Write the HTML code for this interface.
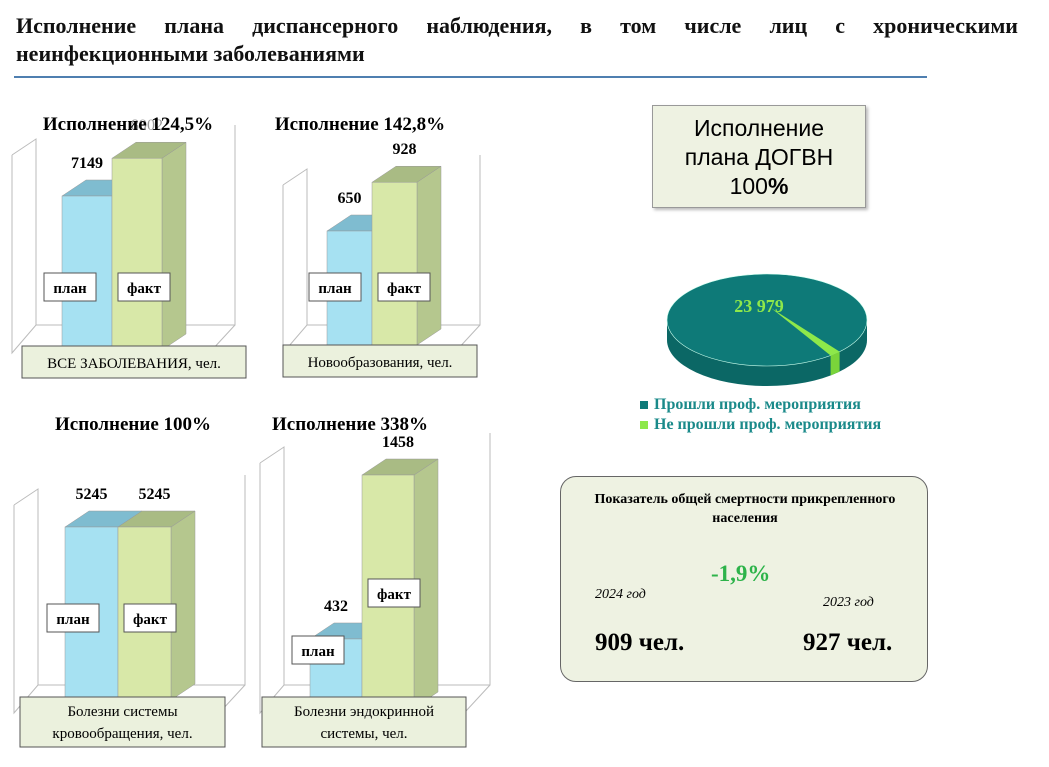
<!DOCTYPE html>
<html><head><meta charset="utf-8">
<style>
body{margin:0;width:1049px;height:767px;background:#fff;overflow:hidden;font-family:"Liberation Serif",serif;}
#root{position:relative;width:1049px;height:767px;}
.abs{position:absolute;}
.title{left:16px;top:12px;width:1002px;font-weight:bold;font-size:22px;line-height:28px;color:#111;}
.j{text-align:justify;text-align-last:justify;}
</style></head><body>
<div id="root">
<div class="abs title"><div class="j">Исполнение плана диспансерного наблюдения, в том числе лиц с хроническими</div><div>неинфекционными заболеваниями</div></div>
<div class="abs" style="left:14px;top:76px;width:913px;height:2px;background:#4f7fb0"></div>

<svg class="abs" style="left:0;top:0" width="1049" height="767" id="svg" font-family="Liberation Serif, serif"></svg>

<div class="abs" style="left:652px;top:105px;width:214px;height:103px;background:#eef2e2;border:1px solid #999;box-shadow:2px 2px 3px #bbb;text-align:center;font-family:'Liberation Sans',sans-serif;font-size:23px;line-height:29px;padding-top:8px;box-sizing:border-box">Исполнение<br>плана ДОГВН<br>100<b>%</b></div>

<div class="abs" style="left:640px;top:395px;font-weight:bold;font-size:16px;line-height:20px;color:#1a8a8a">
<div><span style="display:inline-block;width:8px;height:8px;background:#0e7a78;margin-right:6px"></span>Прошли проф. мероприятия</div>
<div><span style="display:inline-block;width:8px;height:8px;background:#8ee84a;margin-right:6px"></span>Не прошли проф. мероприятия</div>
</div>

<div class="abs" style="left:560px;top:476px;width:368px;height:206px;background:#eef2e2;border:1px solid #666;border-radius:16px;box-sizing:border-box">
<div class="abs" style="left:0;top:13px;width:368px;text-align:center;font-weight:bold;font-size:14px;line-height:19px">Показатель общей смертности прикрепленного<br>населения</div>
<div class="abs" style="left:150px;top:84px;font-weight:bold;font-size:23px;color:#2db34a">-1,9%</div>
<div class="abs" style="left:34px;top:110px;font-style:italic;font-size:14px">2024 год</div>
<div class="abs" style="left:262px;top:118px;font-style:italic;font-size:14px">2023 год</div>
<div class="abs" style="left:34px;top:152px;font-weight:bold;font-size:25px">909 чел.</div>
<div class="abs" style="left:242px;top:152px;font-weight:bold;font-size:25px">927 чел.</div>
</div>
</div>
<script>
const categories=["ВСЕ ЗАБОЛЕВАНИЯ, чел.","Новообразования, чел.","Болезни системы|кровообращения, чел.","Болезни эндокринной|системы, чел."];
const planValues=[7149,650,5245,432];
const factValues=[8902,928,5245,1458];
const titles=["Исполнение 124,5%","Исполнение 142,8%","Исполнение 100%","Исполнение 338%"];
const pieLabels=["Прошли проф. мероприятия","Не прошли проф. мероприятия"];
const pieValues=[23979,480];

const NS="http://www.w3.org/2000/svg";
const svg=document.getElementById('svg');
function mk(tag,attrs,parent){const e=document.createElementNS(NS,tag);for(const k in attrs)e.setAttribute(k,attrs[k]);(parent||svg).appendChild(e);return e;}
const layout=[
 {x0:62,bw:50,floor:350,pxPerUnit:154/7149,box:[12,125,235,345],tx:128,ty:130,cat:[22,346,224,32],lblY:289},
 {x0:327,bw:45,floor:345,pxPerUnit:114/650,box:[283,155,480,345],tx:360,ty:130,cat:[283,345,194,32],lblY:289},
 {x0:65,bw:53,floor:700,pxPerUnit:173/5245,box:[14,475,245,705],tx:133,ty:430,cat:[20,697,205,50],lblY:620},
 {x0:310,bw:52,floor:708,pxPerUnit:233/1458,box:[260,433,490,705],tx:350,ty:430,cat:[262,697,204,50],lblY:652}
];
const dx=24,dy=16;
layout.forEach((L,i)=>{
 const g=mk('g',{});
 
 
 const [bx1,by1,bx2,by2]=L.box;
 mk('path',{d:`M${bx1} ${by1+30} L${bx1+dx} ${by1+14} L${bx1+dx} ${by2-20} M${bx1} ${by1+30} L${bx1} ${by2+8} L${bx1+dx} ${by2-20} L${bx2} ${by2-20} L${bx2} ${by1} M${bx2} ${by2-20} L${bx2-dx} ${by2+6}`,fill:'none',stroke:'#bbb','stroke-width':1},g);
 const yScale=v=>L.floor-v*L.pxPerUnit;
 const vals=[planValues[i],factValues[i]];
 const cols=[['#a6e1f2','#7fbcd0','#8cc9da'],['#d8e8a8','#a9bb84','#b5c78e']];
 vals.forEach((v,j)=>{
  const x=L.x0+j*L.bw, y=yScale(v), w=L.bw;
  const b=mk('g',{},g);
  
  
  mk('polygon',{points:`${x+w},${y} ${x+w+dx},${y-dy} ${x+w+dx},${L.floor-dy} ${x+w},${L.floor}`,fill:cols[j][2],stroke:'#999','stroke-width':0.5},b);
  mk('polygon',{points:`${x},${y} ${x+dx},${y-dy} ${x+w+dx},${y-dy} ${x+w},${y}`,fill:cols[j][1],stroke:'#999','stroke-width':0.5},b);
  mk('rect',{x:x,y:y,width:w,height:L.floor-y,fill:cols[j][0],stroke:'#999','stroke-width':0.5},b);
  const t=mk('text',{x:x+w/2+(j?10:0),y:y-dy-12,'text-anchor':'middle','font-size':16,'font-weight':'bold'},g);
  
  
  t.textContent=v;
  if(i===0&&j===1){t.setAttribute('fill','#999');t.setAttribute('font-weight','normal');}
  const lw=52, lx=j?x+6:x-18, ly=(i===3&&j===0)?L.lblY:(i===3?L.lblY-57:L.lblY);
  const lb=mk('g',{},g);
  
  
  mk('rect',{x:lx,y:ly-16,width:lw,height:28,fill:'#fff',stroke:'#555'},lb);
  const lt=mk('text',{x:lx+lw/2,y:ly+4,'text-anchor':'middle','font-size':15,'font-weight':'bold'},lb);
  lt.textContent=j?'факт':'план';
 });
 const tt=mk('text',{x:L.tx,y:L.ty,'text-anchor':'middle','font-size':19,'font-weight':'bold'},g);
 
 
 tt.textContent=titles[i];
 const [cx,cy,cw,ch]=L.cat;
 const cg=mk('g',{},g);
 
 
 mk('rect',{x:cx,y:cy,width:cw,height:ch,fill:'#ebf1dd',stroke:'#555'},cg);
 const lines=categories[i].split('|');
 lines.forEach((s,k)=>{const ct=mk('text',{x:cx+cw/2,y:cy+(lines.length===1?22:19+k*22),'text-anchor':'middle','font-size':15},cg);ct.textContent=s;});
});

// 3D pie
const pcx=767,pcy=320,rx=100,ry=46,depth=20;
const total=pieValues.reduce((a,b)=>a+b,0);
const pg=mk('g',{});


mk('path',{d:`M${pcx-rx} ${pcy} L${pcx-rx} ${pcy+depth} A${rx} ${ry} 0 0 0 ${pcx+rx} ${pcy+depth} L${pcx+rx} ${pcy} Z`,fill:'#0b6765'},pg);
const pt=a=>[pcx+rx*Math.cos(a),pcy+ry*Math.sin(a)];
const smallA=(pieValues[1]/total)*2*Math.PI;
const s0=0.82-smallA/2, s1=0.82+smallA/2;
const [ax,ay]=pt(s0),[bx,by]=pt(s1);
const big=mk('path',{d:`M${pcx-rx} ${pcy} A${rx} ${ry} 0 1 0 ${pcx+rx} ${pcy} A${rx} ${ry} 0 1 0 ${pcx-rx} ${pcy}Z`,fill:'#0e7a78',stroke:'#cfe','stroke-width':0.6},pg);


mk('path',{d:`M${ax} ${ay} L${ax} ${ay+depth} L${bx} ${by+depth} L${bx} ${by}Z`,fill:'#7ad43a'},pg);
const sl=mk('path',{d:`M${pcx+4} ${pcy-12} L${ax} ${ay} A${rx} ${ry} 0 0 1 ${bx} ${by} Z`,fill:'#8ee84a'},pg);


const pl=mk('text',{x:pcx-8,y:pcy-8,'text-anchor':'middle','font-size':18,'font-weight':'bold',fill:'#8ee84a'},pg);


pl.textContent=String(pieValues[0]).replace(/(\d)(?=(\d{3})+$)/g,'$1 ');
</script>
</body></html>
